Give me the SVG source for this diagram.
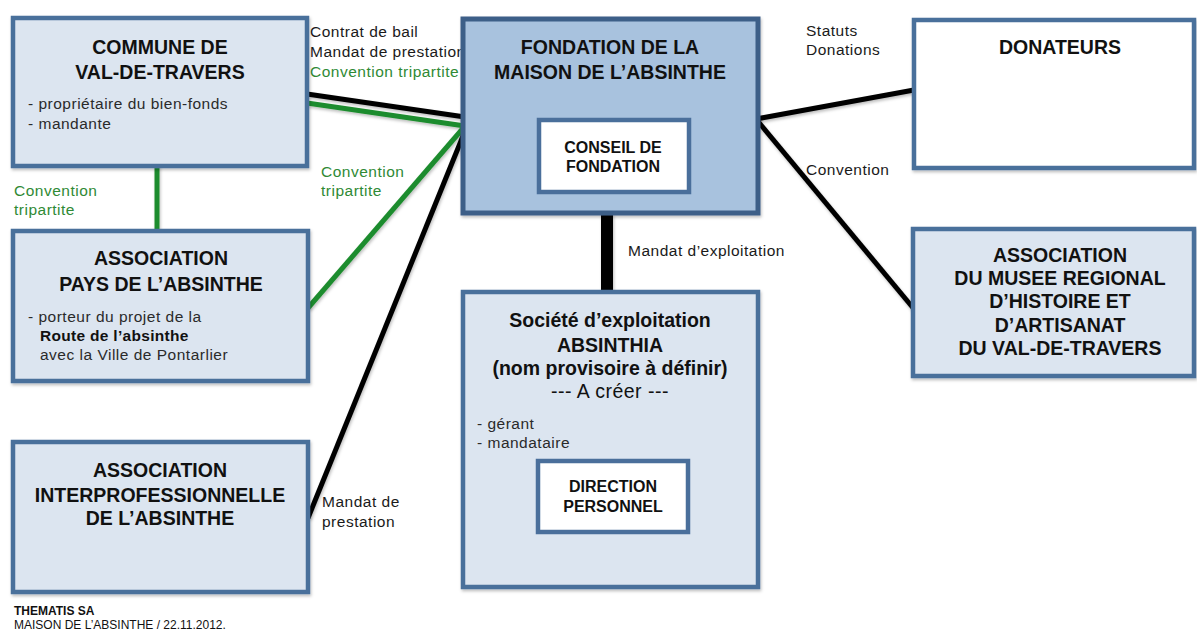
<svg xmlns="http://www.w3.org/2000/svg" width="1197" height="633" viewBox="0 0 1197 633">
<defs>
<filter id="sh" x="-5%" y="-5%" width="110%" height="115%">
<feDropShadow dx="1" dy="2" stdDeviation="1.5" flood-color="#000" flood-opacity="0.25"/>
</filter>
<style>
.box{fill:#dce5f0;stroke:#4a6f9b;stroke-width:4.5}
.fond{fill:#a8c2de;stroke:#3d5f88;stroke-width:5}
.wbox{fill:#ffffff;stroke:#4a6f9b;stroke-width:4.5}
.t{font-family:"Liberation Sans",Arial,sans-serif;font-weight:bold;font-size:19.5px;fill:#111;text-anchor:middle}
.ts{font-family:"Liberation Sans",Arial,sans-serif;font-weight:bold;font-size:16px;fill:#111;text-anchor:middle}
.b{font-family:"Liberation Sans",Arial,sans-serif;font-size:15.5px;fill:#2a2a2a;letter-spacing:0.5px}
.bb{font-family:"Liberation Sans",Arial,sans-serif;font-size:15.5px;font-weight:bold;fill:#111;letter-spacing:0.3px}
.lb{font-family:"Liberation Sans",Arial,sans-serif;font-size:15.5px;fill:#1a1a1a;letter-spacing:0.5px}
.lg{font-family:"Liberation Sans",Arial,sans-serif;font-size:15.5px;fill:#2f8a35;letter-spacing:0.5px}
.f{font-family:"Liberation Sans",Arial,sans-serif;font-size:12px;fill:#111}
.k{stroke:#000;fill:none;stroke-linecap:butt}
.g{stroke:#1e8c2e;fill:none;stroke-width:5}
</style>
</defs>
<rect width="1197" height="633" fill="#ffffff"/>

<g id="connectors">
<g id="labels">
<text class="lb" x="310" y="37">Contrat de bail</text>
<text class="lb" x="310" y="57">Mandat de prestation</text>
<text class="lg" x="310" y="77">Convention tripartite</text>
<text class="lg" x="321" y="177">Convention</text>
<text class="lg" x="321" y="196">tripartite</text>
<text class="lg" x="14" y="196">Convention</text>
<text class="lg" x="14" y="215">tripartite</text>
<text class="lb" x="806" y="36">Statuts</text>
<text class="lb" x="806" y="55">Donations</text>
<text class="lb" x="806" y="175">Convention</text>
<text class="lb" x="628" y="256">Mandat d’exploitation</text>
<text class="lb" x="322" y="507">Mandat de</text>
<text class="lb" x="322" y="527">prestation</text>
</g>
<g filter="url(#sh)">
<line class="k" x1="307" y1="94" x2="465" y2="117" stroke-width="5"/>
<line class="g" x1="307" y1="103" x2="465" y2="126"/>
<line class="g" x1="465" y1="126" x2="308" y2="308"/>
<line class="k" x1="465" y1="131" x2="308" y2="518" stroke-width="5"/>
<line class="g" x1="157" y1="164" x2="157" y2="233"/>
<line class="k" x1="607" y1="213" x2="607" y2="293" stroke-width="12"/>
<line class="k" x1="756" y1="119" x2="914" y2="90" stroke-width="5"/>
<line class="k" x1="756" y1="119" x2="914" y2="309" stroke-width="5"/>
</g>
</g>

<g id="commune">
<rect class="box" x="13" y="18" width="294" height="148" filter="url(#sh)"/>
<text class="t" x="160" y="54">COMMUNE DE</text>
<text class="t" x="160" y="79">VAL-DE-TRAVERS</text>
<text class="b" x="28" y="109">- propriétaire du bien-fonds</text>
<text class="b" x="28" y="129">- mandante</text>
</g>

<g id="pays">
<rect class="box" x="13" y="231" width="295" height="150" filter="url(#sh)"/>
<text class="t" x="161" y="265">ASSOCIATION</text>
<text class="t" x="161" y="291">PAYS DE L’ABSINTHE</text>
<text class="b" x="28" y="322">- porteur du projet de la</text>
<text class="bb" x="40" y="341">Route de l’absinthe</text>
<text class="b" x="40" y="360">avec la Ville de Pontarlier</text>
</g>

<g id="interprof">
<rect class="box" x="13" y="442" width="295" height="150" filter="url(#sh)"/>
<text class="t" x="160" y="477">ASSOCIATION</text>
<text class="t" x="160" y="502">INTERPROFESSIONNELLE</text>
<text class="t" x="160" y="525">DE L’ABSINTHE</text>
</g>

<g id="fondation">
<rect class="fond" x="463" y="19" width="295" height="194" filter="url(#sh)"/>
<text class="t" x="610" y="54">FONDATION DE LA</text>
<text class="t" x="610" y="79">MAISON DE L’ABSINTHE</text>
</g>

<g id="conseil">
<rect class="wbox" x="539" y="120" width="150" height="72"/>
<text class="ts" x="613" y="153">CONSEIL DE</text>
<text class="ts" x="613" y="172">FONDATION</text>
</g>

<g id="donateurs">
<rect class="wbox" x="914" y="20" width="280" height="148" filter="url(#sh)"/>
<text class="t" x="1060" y="54">DONATEURS</text>
</g>

<g id="musee">
<rect class="box" x="913" y="229" width="281" height="147" filter="url(#sh)"/>
<text class="t" x="1060" y="262">ASSOCIATION</text>
<text class="t" x="1060" y="285">DU MUSEE REGIONAL</text>
<text class="t" x="1060" y="308">D’HISTOIRE ET</text>
<text class="t" x="1060" y="332">D’ARTISANAT</text>
<text class="t" x="1060" y="355">DU VAL-DE-TRAVERS</text>
</g>

<g id="societe">
<rect class="box" x="463" y="292" width="295" height="295" filter="url(#sh)"/>
<text class="t" x="610" y="327">Société d’exploitation</text>
<text class="t" x="610" y="352">ABSINTHIA</text>
<text class="t" x="610" y="375">(nom provisoire à définir)</text>
<text class="t" x="610" y="398" style="font-weight:normal;letter-spacing:0.5px">--- A créer ---</text>
<text class="b" x="477" y="429">- gérant</text>
<text class="b" x="477" y="448">- mandataire</text>
</g>

<g id="direction">
<rect class="wbox" x="538" y="461" width="150" height="71"/>
<text class="ts" x="613" y="492">DIRECTION</text>
<text class="ts" x="613" y="512">PERSONNEL</text>
</g>

<g id="footer">
<text class="f" x="14" y="615" style="font-weight:bold">THEMATIS SA</text>
<text class="f" x="14" y="629">MAISON DE L’ABSINTHE / 22.11.2012.</text>
</g>
</svg>
